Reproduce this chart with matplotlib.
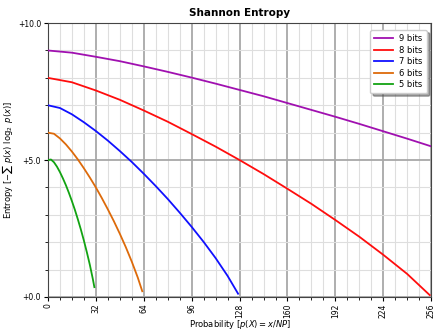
import matplotlib
matplotlib.use("Agg")
import matplotlib.pyplot as plt
from matplotlib.ticker import MultipleLocator, FormatStrFormatter

labels = ["9 bits", "8 bits", "7 bits", "6 bits", "5 bits"]
colors = ["#a010b0", "#ff0d0d", "#1010ff", "#dd6a0a", "#12a312"]

x9 = [0, 16, 32, 48, 64, 80, 96, 112, 128, 144, 160, 176, 192, 208, 224, 240, 256]
y9 = [9.00, 8.92, 8.77, 8.61, 8.42, 8.22, 8.01, 7.79, 7.56, 7.33, 7.08, 6.83,
      6.58, 6.32, 6.05, 5.78, 5.50]

x8 = [0, 16, 32, 48, 64, 80, 96, 112, 128, 144, 160, 176, 192, 208, 224, 240, 255]
y8 = [8.00, 7.84, 7.54, 7.20, 6.81, 6.40, 5.95, 5.49, 5.00, 4.49, 3.95, 3.40,
      2.81, 2.20, 1.54, 0.84, 0.07]

x7 = [0, 8, 16, 24, 32, 40, 48, 56, 64, 72, 80, 88, 96, 104, 112, 120, 127]
y7 = [7.00, 6.90, 6.67, 6.38, 6.06, 5.71, 5.33, 4.93, 4.50, 4.05, 3.58, 3.08,
      2.56, 2.01, 1.42, 0.77, 0.12]

x6 = [0, 4, 8, 12, 16, 20, 24, 28, 32, 36, 40, 44, 48, 52, 56, 60, 63]
y6 = [6.00, 5.96, 5.79, 5.57, 5.31, 5.02, 4.70, 4.36, 4.00, 3.61, 3.20, 2.77,
      2.31, 1.82, 1.29, 0.71, 0.21]

x5 = [0, 2, 4, 6, 8, 10, 12, 14, 16, 18, 20, 22, 24, 26, 28, 30, 31]
y5 = [5.00, 5.02, 4.92, 4.76, 4.56, 4.33, 4.08, 3.80, 3.50, 3.18, 2.83, 2.46,
      2.06, 1.63, 1.17, 0.65, 0.36]

series = [(x9, y9), (x8, y8), (x7, y7), (x6, y6), (x5, y5)]

fig = plt.figure(figsize=(4.4, 3.3), dpi=100)
ax = fig.add_axes([0.109, 0.1, 0.871, 0.83])

for (xs, ys), lab, c in zip(series, labels, colors):
    ax.plot(xs, ys, color=c, lw=1.3, label=lab, zorder=3)

ax.set_xlim(0, 256)
ax.set_ylim(0, 10)
ax.xaxis.set_major_locator(MultipleLocator(32))
ax.xaxis.set_minor_locator(MultipleLocator(8))
ax.yaxis.set_major_locator(MultipleLocator(5))
ax.yaxis.set_minor_locator(MultipleLocator(1))
ax.yaxis.set_major_formatter(FormatStrFormatter("%+.1f"))
ax.grid(which="major", color="#a8a8a8", lw=1.3)
ax.grid(which="minor", color="#dedede", lw=0.8)
ax.set_axisbelow(True)
ax.tick_params(labelsize=5.5, length=3, width=0.8, pad=2)
ax.tick_params(axis="x", pad=1.5)
ax.tick_params(which="minor", length=2, width=0.6)
plt.setp(ax.get_xticklabels(), rotation=90)
for s in ax.spines.values():
    s.set_color("#444444")

ax.set_title("Shannon Entropy", fontsize=7.5, fontweight="bold", pad=5)
ax.set_xlabel(r"Probability [$p(X) = x/NP$]", fontsize=6, labelpad=0)
ax.set_ylabel(r"Entropy [$-\sum\ p(x)\ \log_2\ p(x)$]", fontsize=6, labelpad=2)

ax.legend(loc="upper right", fontsize=6, shadow=True, fancybox=True,
          handlelength=2.2, borderpad=0.5, labelspacing=0.3,
          bbox_to_anchor=(1.0, 0.99))

fig.savefig("out.png", dpi=100)
